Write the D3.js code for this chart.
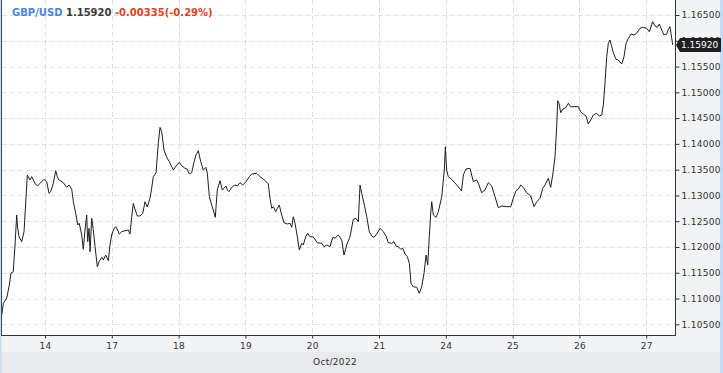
<!DOCTYPE html>
<html><head><meta charset="utf-8">
<script src="https://cdn.jsdelivr.net/npm/d3@7"></script>
<style>body{margin:0;background:#fff;overflow:hidden;} svg{display:block;font-family:"DejaVu Sans",Verdana,sans-serif;}</style>
</head><body><svg id="c" width="723" height="373"></svg>
<script>
const symbol = "GBP/USD";
const lastPrice = 1.15920;
const changeText = "-0.00335(-0.29%)";
const dayLabels = ["14","17","18","19","20","21","24","25","26","27"];
const monthLabel = "Oct/2022";
const yTicks = [1.105,1.110,1.115,1.120,1.125,1.130,1.135,1.140,1.145,1.150,1.155,1.160,1.165];
// time in trading days relative to Oct 14 00:00 (0 = 14, 1 = 17, ...)
const times = [-0.648,-0.624,-0.573,-0.534,-0.509,-0.475,-0.449,-0.424,-0.409,-0.389,-0.349,-0.314,-0.289,-0.265,-0.225,-0.199,-0.150,-0.115,-0.075,-0.015,
0.025,0.060,0.085,0.124,0.160,0.184,0.210,0.274,0.325,0.359,0.400,0.424,0.464,0.490,0.513,0.549,0.573,0.599,0.624,0.639,
0.659,0.674,0.699,0.723,0.749,0.783,0.808,0.849,0.873,0.909,0.948,0.973,0.998,1.033,1.063,1.112,1.148,1.198,1.247,1.272,
1.298,1.322,1.347,1.382,1.422,1.463,1.497,1.531,1.572,1.597,1.621,1.662,1.696,1.722,1.747,1.781,1.822,1.861,1.921,1.961,
2.010,2.046,2.096,2.130,2.160,2.196,2.231,2.260,2.295,2.331,2.370,2.410,2.430,2.460,2.495,2.519,2.549,2.579,2.620,2.654,
2.680,2.710,2.729,2.754,2.795,2.844,2.879,2.919,2.960,3.009,3.058,3.094,3.169,3.219,3.268,3.343,3.368,3.394,3.418,3.454,
3.478,3.507,3.543,3.578,3.627,3.668,3.693,3.717,3.743,3.777,3.807,3.843,3.867,3.903,3.933,3.967,4.016,4.076,4.142,4.177,
4.217,4.266,4.307,4.341,4.391,4.442,4.476,4.516,4.566,4.615,4.656,4.690,4.716,4.741,4.775,4.816,4.855,4.891,4.925,4.966,
5.015,5.064,5.105,5.139,5.190,5.225,5.254,5.289,5.325,5.355,5.389,5.424,5.454,5.479,5.513,5.564,5.603,5.639,5.674,5.704,
5.729,5.753,5.774,5.789,5.813,5.853,5.888,5.939,5.963,5.978,5.993,6.013,6.037,6.088,6.163,6.213,6.235,6.262,6.302,6.362,
6.412,6.463,6.497,6.537,6.587,6.636,6.687,6.737,6.786,6.837,6.912,6.972,7.010,7.051,7.085,7.121,7.160,7.211,7.271,7.320,
7.361,7.410,7.451,7.485,7.534,7.570,7.600,7.635,7.660,7.675,7.695,7.720,7.750,7.799,7.834,7.870,7.934,7.984,8.019,8.058,
8.099,8.133,8.169,8.208,8.259,8.298,8.334,8.358,8.383,8.409,8.433,8.458,8.484,8.507,8.548,8.582,8.633,8.668,8.698,8.732,
8.772,8.817,8.858,8.907,8.948,9.007,9.046,9.097,9.132,9.166,9.196,9.232,9.266,9.307,9.331,9.356,9.371,9.397];
const prices = [1.10680,1.10907,1.11010,1.11262,1.11495,1.11520,1.12038,1.12620,1.12368,1.12199,1.12102,1.12296,1.12853,1.13396,1.13299,1.13363,1.13235,1.13183,1.13235,1.13313,
1.13266,1.13041,1.13072,1.13235,1.13479,1.13363,1.13299,1.13247,1.13157,1.13202,1.13119,1.12878,1.12620,1.12426,1.12459,1.12232,1.11955,1.12329,1.12620,1.12102,
1.12362,1.11908,1.12556,1.12329,1.12005,1.11617,1.11714,1.11800,1.11747,1.11844,1.11733,1.12038,1.12232,1.12362,1.12393,1.12251,1.12296,1.12315,1.12329,1.12251,
1.12587,1.12847,1.12731,1.12601,1.12601,1.12653,1.12878,1.12775,1.12944,1.13144,1.13363,1.13441,1.14011,1.14321,1.14236,1.13881,1.13739,1.13654,1.13493,1.13571,
1.13642,1.13576,1.13526,1.13507,1.13415,1.13441,1.13654,1.13784,1.13867,1.13654,1.13493,1.13546,1.13429,1.12975,1.12814,1.12717,1.12576,1.13105,1.13286,1.13105,
1.13138,1.13183,1.13105,1.13072,1.13157,1.13202,1.13183,1.13247,1.13202,1.13266,1.13363,1.13415,1.13429,1.13363,1.13319,1.13222,1.12944,1.12750,1.12781,1.12684,
1.12750,1.12814,1.12620,1.12471,1.12446,1.12459,1.12382,1.12587,1.12459,1.12199,1.11941,1.12071,1.12038,1.12199,1.12265,1.12199,1.12193,1.12083,1.12071,1.12005,
1.12038,1.12005,1.12187,1.12168,1.12232,1.12135,1.11844,1.12038,1.12199,1.12537,1.12556,1.12490,1.13202,1.13041,1.12847,1.12587,1.12296,1.12213,1.12187,1.12251,
1.12362,1.12296,1.12213,1.12083,1.12071,1.12102,1.12019,1.12005,1.11955,1.11974,1.11864,1.11811,1.11683,1.11295,1.11229,1.11218,1.11101,1.11229,1.11489,1.11844,
1.11650,1.12199,1.12653,1.12878,1.12620,1.12576,1.12684,1.12975,1.13299,1.13493,1.13945,1.13493,1.13363,1.13313,1.13202,1.13125,1.13086,1.13396,1.13513,1.13526,
1.13266,1.13299,1.13202,1.13053,1.13105,1.13247,1.13183,1.12975,1.12762,1.12795,1.12781,1.12781,1.12944,1.13092,1.13119,1.13202,1.13157,1.13053,1.12989,1.12781,
1.12878,1.12944,1.13138,1.13202,1.13332,1.13157,1.13396,1.13751,1.14333,1.14837,1.14787,1.14605,1.14671,1.14709,1.14787,1.14721,1.14721,1.14721,1.14624,1.14579,
1.14541,1.14386,1.14463,1.14560,1.14593,1.14541,1.14560,1.14754,1.15175,1.15691,1.15951,1.16015,1.15885,1.15769,1.15641,1.15627,1.15549,1.15691,1.15951,1.16048,
1.16131,1.16112,1.16145,1.16242,1.16261,1.16242,1.16176,1.16370,1.16287,1.16261,1.16325,1.16209,1.16112,1.16131,1.16223,1.16273,1.16145,1.15920];

const W = 723, H = 373;
const L = 2, R = 675, T = 0, B = 336;
const svg = d3.select("#c");

// backgrounds
svg.append("rect").attr("x",0).attr("y",0).attr("width",W).attr("height",H).attr("fill","#f2f3f5");
svg.append("rect").attr("x",0).attr("y",352).attr("width",W).attr("height",H-352).attr("fill","#e9eaec");
svg.append("rect").attr("x",L).attr("y",T).attr("width",R-L).attr("height",B-T).attr("fill","#ffffff");
svg.append("rect").attr("x",0).attr("y",0).attr("width",1.5).attr("height",H).attr("fill","#c6dcf5");
svg.append("rect").attr("x",720).attr("y",0).attr("width",3).attr("height",H).attr("fill","#c6dcf5");

const x = d3.scaleLinear().domain([-0.644, 9.431]).range([L, R]);
const y = d3.scaleLinear().domain([1.10273, 1.16791]).range([B, T]);

// grid
const grid = svg.append("g");
grid.selectAll("line.h").data(yTicks).join("line")
  .attr("x1",L).attr("x2",R).attr("y1",d=>Math.round(y(d))+0.5).attr("y2",d=>Math.round(y(d))+0.5)
  .attr("stroke","#dedede").attr("stroke-dasharray","5,3");
grid.selectAll("line.v").data(d3.range(dayLabels.length)).join("line")
  .attr("y1",T).attr("y2",B).attr("x1",d=>Math.round(x(d))+0.5).attr("x2",d=>Math.round(x(d))+0.5)
  .attr("stroke","#dedede").attr("stroke-dasharray","5,3");

// line
const pts = times.map((t,i)=>[t, prices[i]]);
svg.append("path").datum(pts)
  .attr("d", d3.line().x(d=>x(d[0])).y(d=>y(d[1])))
  .attr("fill","none").attr("stroke","#1e1e1e").attr("stroke-width",1);

// axes
const yAxis = d3.axisRight(y).tickValues(yTicks).tickFormat(d3.format(".5f")).tickSize(4).tickPadding(2);
const gy = svg.append("g").attr("transform",`translate(${R+0.5},0)`).call(yAxis);
gy.select(".domain").attr("d",`M0,${T}V${B}`).attr("stroke","#333");
gy.selectAll(".tick line").attr("stroke","#333");
gy.selectAll(".tick text").attr("fill","#333").style("font-size","9px").style("font-family","DejaVu Sans, sans-serif").style("letter-spacing","0.3px");

const xAxis = d3.axisBottom(x).tickValues(d3.range(dayLabels.length)).tickFormat(i=>dayLabels[i]).tickSize(3).tickPadding(4);
const gx = svg.append("g").attr("transform",`translate(0,${B-0.5})`).call(xAxis);
gx.select(".domain").attr("d",`M${L},0H${R+0.5}`).attr("stroke","#333");
gx.selectAll(".tick line").attr("stroke","#333");
gx.selectAll(".tick text").attr("fill","#333").style("font-size","9px").style("font-family","DejaVu Sans, sans-serif").style("letter-spacing","0.3px");

// left border line
svg.append("line").attr("x1",L-0.5).attr("x2",L-0.5).attr("y1",0).attr("y2",B).attr("stroke","#3a4a5e").attr("stroke-width",1);

// month label
svg.append("text").attr("x",335).attr("y",365).attr("text-anchor","middle")
  .attr("fill","#333").style("font-size","9px").style("letter-spacing","0.3px").text(monthLabel);

// last price tag
const ly = y(lastPrice);
const tag = svg.append("g");
tag.append("path").attr("d",`M${R+1},${ly} L${R+5},${ly-7} H${W-2} V${ly+7} H${R+5} Z`).attr("fill","#1f1f1f");
tag.append("text").attr("x",R+6).attr("y",ly+3.5).attr("fill","#fff").style("font-size","9px").text(d3.format(".5f")(lastPrice));

// title
const title = svg.append("text").attr("x",12).attr("y",16).style("font-size","10px").style("font-weight","bold");
title.append("tspan").attr("fill","#4a84e4").text(symbol + " ");
title.append("tspan").attr("fill","#3a3a3a").text(d3.format(".5f")(lastPrice) + " ");
title.append("tspan").attr("fill","#e0401c").text(changeText);
</script>
</body></html>
